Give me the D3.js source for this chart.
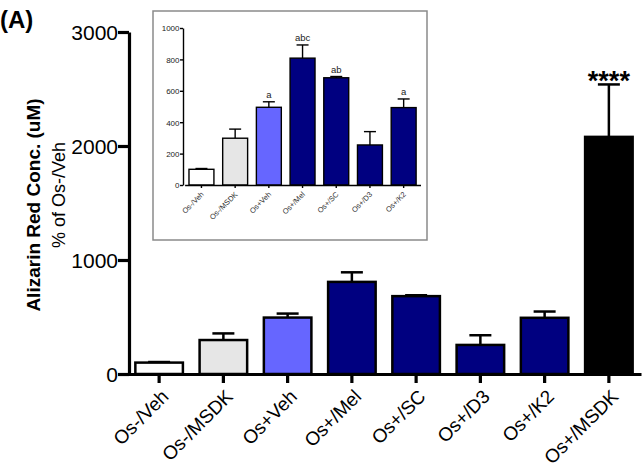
<!DOCTYPE html>
<html>
<head>
<meta charset="utf-8">
<script src="https://cdn.jsdelivr.net/npm/d3@7"></script>
<style>
  body { margin: 0; background: #fff; }
  svg { display: block; font-family: "Liberation Sans", Arial, sans-serif; }
</style>
</head>
<body>
<svg id="chart" width="643" height="471"></svg>
<script>
// ---- data ----
var categories = ["Os-/Veh", "Os-/MSDK", "Os+Veh", "Os+/Mel", "Os+/SC", "Os+/D3", "Os+/K2", "Os+/MSDK"];
var means = [100, 298, 495, 808, 683, 255, 493, 2080];
var errUp = [5, 58, 35, 84, 8, 85, 55, 460];
var yTicks = [0, 1000, 2000, 3000];

var insetCategories = ["Os-/Veh", "Os-/MSDK", "Os+Veh", "Os+/Mel", "Os+/SC", "Os+/D3", "Os+/K2"];
var insetMeans = [100, 298, 495, 808, 683, 255, 493];
var insetErrUp = [5, 58, 35, 84, 8, 85, 55];
var insetLetters = ["", "", "a", "abc", "ab", "", "a"];
var insetTicks = [0, 200, 400, 600, 800, 1000];

var fills = ["#ffffff", "#e6e6e6", "#6666ff", "#000080", "#000080", "#000080", "#000080", "#000000"];

var svg = d3.select("#chart");

//==================== main chart ====================
var x = d3.scaleBand().domain(categories).range([127, 641]).padding(0);
var y = d3.scaleLinear().domain([0, 3000]).range([374, 32]);
var bw = x.bandwidth() * 0.74;

var main = svg.append("g");

// error bars (upper only)
main.selectAll(".err").data(categories).enter().append("g").each(function(d, i) {
  var cx = x(d) + x.bandwidth() / 2;
  var g = d3.select(this);
  g.append("line").attr("x1", cx).attr("x2", cx)
    .attr("y1", y(means[i])).attr("y2", y(means[i] + errUp[i]))
    .attr("stroke", "#000").attr("stroke-width", 2.5);
  g.append("line").attr("x1", cx - 11).attr("x2", cx + 11)
    .attr("y1", y(means[i] + errUp[i])).attr("y2", y(means[i] + errUp[i]))
    .attr("stroke", "#000").attr("stroke-width", 2.5);
});

main.selectAll("rect.bar").data(categories).enter().append("rect")
  .attr("class", "bar")
  .attr("x", function(d) { return x(d) + (x.bandwidth() - bw) / 2; })
  .attr("y", function(d, i) { return y(means[i]); })
  .attr("width", bw)
  .attr("height", function(d, i) { return y(0) - y(means[i]); })
  .attr("fill", function(d, i) { return fills[i]; })
  .attr("stroke", "#000").attr("stroke-width", 2.5);

// significance
main.append("text")
  .attr("x", x("Os+/MSDK") + x.bandwidth() / 2)
  .attr("y", 90)
  .attr("text-anchor", "middle")
  .attr("font-size", 27).attr("font-weight", "bold")
  .text("****");

// y axis
var yAxis = main.append("g").attr("transform", "translate(129,0)")
  .call(d3.axisLeft(y).tickValues(yTicks).tickFormat(d3.format("d")).tickSize(11).tickSizeOuter(0));
yAxis.select(".domain").attr("stroke-width", 3.2);
yAxis.selectAll(".tick line").attr("stroke-width", 3.2);
yAxis.selectAll(".tick text").attr("font-size", 21).attr("font-family", "Liberation Sans, Arial, sans-serif")
  .attr("fill", "#000").attr("x", -11).attr("dy", "0.36em");

// x axis
var xAxis = main.append("g").attr("transform", "translate(0,374)")
  .call(d3.axisBottom(x).tickSize(9).tickSizeOuter(0).tickFormat(""));
xAxis.select(".domain").attr("stroke-width", 3.2);
xAxis.selectAll(".tick line").attr("stroke-width", 3.2);

main.selectAll("text.xlab").data(categories).enter().append("text")
  .attr("class", "xlab")
  .attr("transform", function(d) {
    return "translate(" + (x(d) + x.bandwidth() / 2 + 6) + ",393) rotate(-45)";
  })
  .attr("text-anchor", "end")
  .attr("dy", "0.35em")
  .attr("font-size", 19)
  .text(function(d) { return d; });

// y titles
svg.append("text")
  .attr("transform", "translate(40,205) rotate(-90)")
  .attr("text-anchor", "middle")
  .attr("font-size", 19).attr("font-weight", "bold")
  .text("Alizarin Red Conc. (uM)");
svg.append("text")
  .attr("transform", "translate(65,195) rotate(-90)")
  .attr("text-anchor", "middle")
  .attr("font-size", 18)
  .text("% of Os-/Veh");

svg.append("text").attr("x", 0).attr("y", 28)
  .attr("font-size", 24).attr("font-weight", "bold").text("(A)");

//==================== inset ====================
var inset = svg.append("g");
inset.append("rect").attr("x", 153).attr("y", 11).attr("width", 274).attr("height", 229)
  .attr("fill", "#fff").attr("stroke", "#8a8a8a").attr("stroke-width", 1.5);

var xi = d3.scaleBand().domain(insetCategories).range([184.6, 420.5]).padding(0);
var yi = d3.scaleLinear().domain([0, 1000]).range([185, 28]);
var bwi = xi.bandwidth() * 0.74;

inset.selectAll(".ierr").data(insetCategories).enter().append("g").each(function(d, i) {
  var cx = xi(d) + xi.bandwidth() / 2;
  var g = d3.select(this);
  var top = yi(insetMeans[i] + insetErrUp[i]);
  g.append("line").attr("x1", cx).attr("x2", cx)
    .attr("y1", yi(insetMeans[i])).attr("y2", top)
    .attr("stroke", "#000").attr("stroke-width", 1.4);
  g.append("line").attr("x1", cx - 6).attr("x2", cx + 6)
    .attr("y1", top).attr("y2", top)
    .attr("stroke", "#000").attr("stroke-width", 1.4);
  if (insetLetters[i]) {
    g.append("text").attr("x", cx).attr("y", top - 4)
      .attr("text-anchor", "middle").attr("font-size", 9.5).attr("fill", "#222")
      .text(insetLetters[i]);
  }
});

inset.selectAll("rect.ibar").data(insetCategories).enter().append("rect")
  .attr("class", "ibar")
  .attr("x", function(d) { return xi(d) + (xi.bandwidth() - bwi) / 2; })
  .attr("y", function(d, i) { return yi(insetMeans[i]); })
  .attr("width", bwi)
  .attr("height", function(d, i) { return yi(0) - yi(insetMeans[i]); })
  .attr("fill", function(d, i) { return fills[i]; })
  .attr("stroke", "#000").attr("stroke-width", 1.4);

var yiAxis = inset.append("g").attr("transform", "translate(183,0)")
  .call(d3.axisLeft(yi).tickValues(insetTicks).tickFormat(d3.format("d")).tickSize(3).tickSizeOuter(0));
yiAxis.select(".domain").attr("stroke-width", 1.4);
yiAxis.selectAll(".tick line").attr("stroke-width", 1.4);
yiAxis.selectAll(".tick text").attr("font-size", 8).attr("font-family", "Liberation Sans, Arial, sans-serif")
  .attr("fill", "#222").attr("x", -3.5).attr("dy", "0.36em");

var xiAxis = inset.append("g").attr("transform", "translate(0,185)")
  .call(d3.axisBottom(xi).tickSize(3).tickSizeOuter(0).tickFormat(""));
xiAxis.select(".domain").attr("stroke-width", 1.4);
xiAxis.selectAll(".tick line").attr("stroke-width", 1.4);

inset.selectAll("text.ixlab").data(insetCategories).enter().append("text")
  .attr("class", "ixlab")
  .attr("transform", function(d) {
    return "translate(" + (xi(d) + xi.bandwidth() / 2 + 1) + ",193) rotate(-45)";
  })
  .attr("text-anchor", "end")
  .attr("dy", "0.35em")
  .attr("font-size", 7.5).attr("fill", "#333")
  .text(function(d) { return d; });
</script>
</body>
</html>
